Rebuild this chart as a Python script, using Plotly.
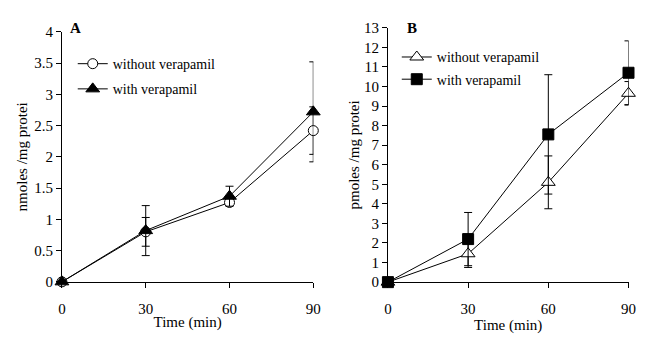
import plotly.graph_objects as go

time_min = [0, 30, 60, 90]

# Panel A (nmoles / mg protein)
a_without = [0, 0.80, 1.27, 2.42]
a_without_err = [0, 0.23, 0.05, 0.38]
a_with = [0, 0.82, 1.37, 2.72]
a_with_err = [0, 0.40, 0.16, 0.80]

# Panel B (pmoles / mg protein)
b_without = [0, 1.45, 5.10, 9.65]
b_without_err = [0, 0.70, 1.35, 0.60]
b_with = [0, 2.20, 7.55, 10.70]
b_with_err = [0, 1.36, 3.05, 1.63]

x_ticks = [0, 30, 60, 90]
a_yticks = [0, 0.5, 1, 1.5, 2, 2.5, 3, 3.5, 4]
b_yticks = list(range(0, 14))

FONT = "Liberation Serif"
BLACK = "black"

fig = go.Figure()

def err(vals):
    return dict(type="data", array=vals, visible=True, color=BLACK, thickness=1, width=4)

fig.add_trace(go.Scatter(
    x=time_min, y=a_without, error_y=err(a_without_err), name="without verapamil",
    mode="lines+markers", line=dict(color=BLACK, width=1),
    marker=dict(symbol="circle", size=10, color="white", line=dict(color=BLACK, width=1)),
    xaxis="x", yaxis="y", legend="legend", legendgroup="a1", cliponaxis=False))
fig.add_trace(go.Scatter(
    x=time_min, y=a_with, error_y=err(a_with_err), name="with verapamil",
    mode="lines+markers", line=dict(color=BLACK, width=1),
    marker=dict(symbol="triangle-up", size=12, color=BLACK, line=dict(color=BLACK, width=1)),
    xaxis="x", yaxis="y", legend="legend", legendgroup="a2", cliponaxis=False))
fig.add_trace(go.Scatter(
    x=time_min, y=b_without, error_y=err(b_without_err), name="without verapamil",
    mode="lines+markers", line=dict(color=BLACK, width=1),
    marker=dict(symbol="triangle-up", size=12, color="white", line=dict(color=BLACK, width=1)),
    xaxis="x2", yaxis="y2", legend="legend2", legendgroup="b1", cliponaxis=False))
fig.add_trace(go.Scatter(
    x=time_min, y=b_with, error_y=err(b_with_err), name="with verapamil",
    mode="lines+markers", line=dict(color=BLACK, width=1),
    marker=dict(symbol="square", size=11, color=BLACK, line=dict(color=BLACK, width=1)),
    xaxis="x2", yaxis="y2", legend="legend2", legendgroup="b2", cliponaxis=False))

W, H = 664, 349

def px_x(v):
    return v / W

def px_y(v):
    return 1 - v / H

TICKF = dict(family=FONT, size=15, color=BLACK)
TITLEF = dict(family=FONT, size=15, color=BLACK)
LEGF = dict(family=FONT, size=14, color=BLACK)

common_x = dict(range=[0, 90], tickvals=x_ticks, showgrid=False, zeroline=False,
                showline=True, linecolor=BLACK, linewidth=1, ticks="outside", ticklen=5,
                tickcolor=BLACK, tickfont=TICKF, ticklabelstandoff=8,
                title=dict(text="Time (min)", font=TITLEF, standoff=0))
common_y = dict(showgrid=False, zeroline=False, showline=True, linecolor=BLACK, linewidth=1,
                ticks="outside", ticklen=5, tickcolor=BLACK, tickfont=TICKF)

fig.update_layout(
    width=W, height=H, margin=dict(l=0, r=0, t=0, b=0),
    paper_bgcolor="white", plot_bgcolor="white",
    font=dict(family=FONT, size=14, color=BLACK),
    xaxis=dict(domain=[px_x(59), px_x(315)], anchor="y", **common_x),
    yaxis=dict(domain=[px_y(287), px_y(25)], anchor="x", range=[0, 4], tickvals=a_yticks,
               title=dict(text="nmoles /mg protei", font=TITLEF, standoff=2),
               **common_y),
    xaxis2=dict(domain=[px_x(391), px_x(636)], anchor="y2", **common_x),
    yaxis2=dict(domain=[px_y(287.3), px_y(20.7)], anchor="x2", range=[0, 13], tickvals=b_yticks,
                title=dict(text="pmoles /mg protei", font=TITLEF, standoff=0),
                **common_y),
    legend=dict(x=px_x(70), y=px_y(42), xanchor="left", yanchor="top", bgcolor="rgba(0,0,0,0)",
                font=LEGF, tracegroupgap=4, itemwidth=30),
    legend2=dict(x=px_x(400), y=px_y(35), xanchor="left", yanchor="top", bgcolor="rgba(0,0,0,0)",
                 font=LEGF, tracegroupgap=1, itemwidth=30),
    annotations=[
        dict(text="<b>A</b>", x=px_x(65), y=px_y(21), xref="paper", yref="paper",
             xanchor="left", yanchor="middle", showarrow=False, font=dict(family=FONT, size=15, color=BLACK)),
        dict(text="<b>B</b>", x=px_x(408), y=px_y(21), xref="paper", yref="paper",
             xanchor="left", yanchor="middle", showarrow=False, font=dict(family=FONT, size=15, color=BLACK)),
    ],
)

fig.write_html("out.html")
